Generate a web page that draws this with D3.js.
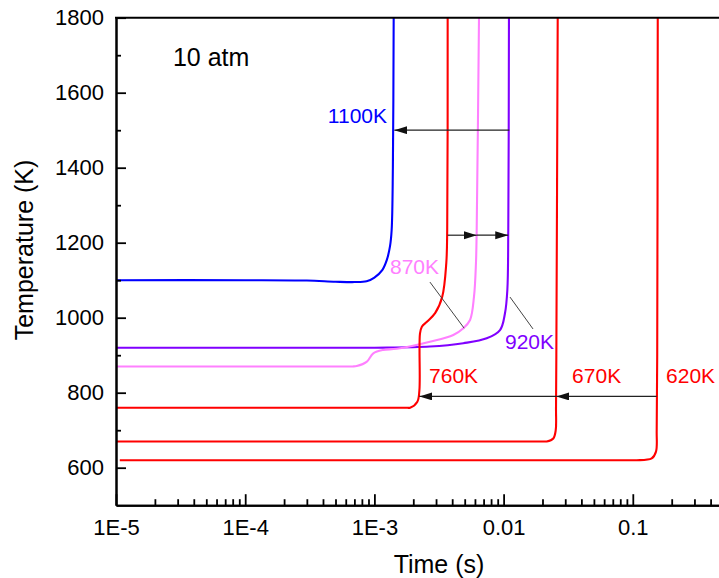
<!DOCTYPE html>
<html>
<head>
<meta charset="utf-8">
<script src="https://cdn.jsdelivr.net/npm/d3@7"></script>
<style>
  html, body { margin: 0; padding: 0; background: #fff; }
  svg { display: block; }
  text { font-family: "Liberation Sans", Arial, sans-serif; }
</style>
</head>
<body>
<svg id="chart" width="719" height="578"></svg>
<script>
// ---------- data ----------
const time1100 = [1e-5, 1e-4, 3e-4, 5e-4, 7e-4, 8.7e-4, 1.0e-3, 1.15e-3, 1.25e-3, 1.32e-3, 1.36e-3, 1.39e-3, 1.41e-3];
const temp1100 = [1100, 1100, 1099, 1096, 1095, 1097, 1107, 1127, 1155, 1190, 1234, 1400, 1800];

const time920 = [1e-5, 1e-4, 1e-3, 2.69e-3, 4.88e-3, 7.4e-3, 9.38e-3, 1.025e-2, 1.069e-2, 1.087e-2, 1.10e-2];
const temp920 = [920, 920, 920, 923, 932, 945, 967, 1012, 1074, 1234, 1800];

const time870 = [1e-5, 1e-4, 4e-4, 6e-4, 6.8e-4, 7.3e-4, 8.7e-4, 9.8e-4, 1.17e-3, 1.49e-3, 2.69e-3, 4.08e-3, 4.88e-3, 5.5e-3, 5.9e-3, 6.11e-3, 6.19e-3, 6.45e-3];
const temp870 = [870, 870, 870, 870, 870, 871, 882, 905, 914, 917, 936, 954, 972, 994, 1056, 1145, 1234, 1800];

const time760 = [1e-5, 1e-4, 1e-3, 1.5e-3, 1.75e-3, 1.89e-3, 2.15e-3, 2.23e-3, 2.254e-3, 2.33e-3, 2.55e-3, 2.95e-3, 3.35e-3, 3.6e-3, 3.66e-3, 3.69e-3];
const temp760 = [760, 760, 760, 760, 760, 760, 776, 807, 958, 976, 989, 1012, 1056, 1145, 1234, 1800];

const time670 = [1e-5, 1e-4, 1e-3, 0.01, 0.018, 0.0205, 0.02157, 0.02425, 0.02532, 0.02545, 0.0256, 0.02623];
const temp670 = [670, 670, 670, 670, 670, 670, 670, 678, 700, 760, 900, 1800];

const time620 = [1.07e-5, 1e-4, 1e-3, 0.01, 0.05, 0.08, 0.095, 0.1072, 0.140, 0.1512, 0.1531, 0.1545, 0.156];
const temp620 = [620, 620, 620, 620, 620, 620, 620, 620, 625, 643, 700, 900, 1800];

const seriesNames  = ["920K", "870K", "670K", "620K", "760K", "1100K"];
const seriesColors = ["#8000ff", "#ff80ff", "#ff0000", "#ff0000", "#ff0000", "#0000ff"];
const seriesTimes  = [time920, time870, time670, time620, time760, time1100];
const seriesTemps  = [temp920, temp870, temp670, temp620, temp760, temp1100];

const xTickValues = [1e-5, 1e-4, 1e-3, 0.01, 0.1];
const xTickLabels = ["1E-5", "1E-4", "1E-3", "0.01", "0.1"];
const yTickValues = [600, 800, 1000, 1200, 1400, 1600, 1800];
const yMinorValues = [700, 900, 1100, 1300, 1500, 1700];

// annotations, in data units
const labelTexts  = ["1100K", "870K", "920K", "760K", "670K", "620K", "10 atm"];
const labelTimes  = [1.252e-3, 1.32e-3, 0.01025, 2.65e-3, 0.0339, 0.181, 2.76e-5];
const labelTemps  = [1519, 1116, 916, 826, 826, 826, 1670];
const labelColors = ["#0000ff", "#ff80ff", "#8000ff", "#ff0000", "#ff0000", "#ff0000", "#000000"];

const arrowFrom = [0.01107, 3.69e-3, 6.2e-3, 0.1531, 0.0256];
const arrowTo   = [1.426e-3, 6.2e-3, 1.087e-2, 0.0256, 2.23e-3];
const arrowTemp = [1500, 1220, 1220, 790, 790];

const leaderT0 = [2.69e-3, 0.01121], leaderK0 = [1095, 1055];
const leaderT1 = [4.95e-3, 0.01689], leaderK1 = [972, 970];

// ---------- drawing ----------
const svg = d3.select("#chart");
const x = d3.scaleLog().domain([1e-5, 1]).range([116, 762]);
const y = d3.scaleLinear().domain([500, 1800]).range([505.2, 17.7]);

const defs = svg.append("defs");
defs.append("clipPath").attr("id", "plot")
  .append("rect").attr("x", x(1e-5)).attr("y", y(1800) - 1)
  .attr("width", x(1) - x(1e-5)).attr("height", y(500) - y(1800) + 1);
defs.append("marker").attr("id", "arrow")
  .attr("markerUnits", "userSpaceOnUse")
  .attr("markerWidth", 14).attr("markerHeight", 9)
  .attr("refX", 13).attr("refY", 4).attr("orient", "auto")
  .append("path").attr("d", "M0,0 L13,4 L0,8 Z").attr("fill", "#111");

const line = d3.line()
  .x(d => x(d[0])).y(d => y(d[1]))
  .curve(d3.curveCatmullRom.alpha(0.5));

const gLines = svg.append("g").attr("clip-path", "url(#plot)");
seriesNames.forEach((name, i) => {
  const pts = seriesTimes[i].map((t, j) => [t, seriesTemps[i][j]]);
  gLines.append("path").datum(pts)
    .attr("d", line)
    .attr("fill", "none")
    .attr("stroke", seriesColors[i])
    .attr("stroke-width", 2.1)
    .attr("stroke-linejoin", "round");
});

// arrows
arrowFrom.forEach((t0, i) => {
  svg.append("line")
    .attr("x1", x(t0)).attr("x2", x(arrowTo[i]))
    .attr("y1", y(arrowTemp[i])).attr("y2", y(arrowTemp[i]))
    .attr("stroke", "#222").attr("stroke-width", 1.2)
    .attr("marker-end", "url(#arrow)");
});

// leader lines
leaderT0.forEach((t0, i) => {
  svg.append("line")
    .attr("x1", x(t0)).attr("y1", y(leaderK0[i]))
    .attr("x2", x(leaderT1[i])).attr("y2", y(leaderK1[i]))
    .attr("stroke", "#444").attr("stroke-width", 1);
});

// labels
labelTexts.forEach((txt, i) => {
  svg.append("text")
    .attr("x", x(labelTimes[i])).attr("y", y(labelTemps[i]))
    .attr("text-anchor", i === 0 ? "end" : "start")
    .attr("font-size", i === 6 ? 25 : 21)
    .attr("fill", labelColors[i])
    .text(txt);
});

// axes
const xAxisMajor = d3.axisBottom(x).tickValues(xTickValues)
  .tickFormat((d, i) => xTickLabels[i]).tickSize(-11).tickSizeOuter(0).tickPadding(14);
const minorX = [];
for (let e = -5; e < 0; e++) for (let m = 2; m <= 9; m++) minorX.push(m * Math.pow(10, e));
const xAxisMinor = d3.axisBottom(x).tickValues(minorX).tickFormat("").tickSize(-6).tickSizeOuter(0);

const gxMinor = svg.append("g").attr("transform", `translate(0,${y(500)})`).call(xAxisMinor);
const gx = svg.append("g").attr("transform", `translate(0,${y(500)})`).call(xAxisMajor);

const yAxisMajor = d3.axisLeft(y).tickValues(yTickValues).tickFormat(d3.format("d"))
  .tickSize(-10).tickSizeOuter(0).tickPadding(12);
const yAxisMinor = d3.axisLeft(y).tickValues(yMinorValues).tickFormat("").tickSize(-5).tickSizeOuter(0);
const gyMinor = svg.append("g").attr("transform", `translate(${x(1e-5)},0)`).call(yAxisMinor);
const gy = svg.append("g").attr("transform", `translate(${x(1e-5)},0)`).call(yAxisMajor);

[gx, gxMinor, gy, gyMinor].forEach(g => {
  g.selectAll("path.domain").attr("stroke", "#000").attr("stroke-width", 2);
  g.selectAll(".tick line").attr("stroke", "#000").attr("stroke-width", 1.8);
  g.selectAll(".tick text").attr("fill", "#000").attr("font-size", 22)
    .attr("font-family", "'Liberation Sans', Arial, sans-serif");
});

// top border
svg.append("line")
  .attr("x1", x(1e-5) - 1).attr("x2", x(1))
  .attr("y1", y(1800)).attr("y2", y(1800))
  .attr("stroke", "#000").attr("stroke-width", 2);

// axis titles
svg.append("text")
  .attr("x", (x(1e-5) + x(1)) / 2).attr("y", 573)
  .attr("text-anchor", "middle").attr("font-size", 25)
  .text("Time (s)");
svg.append("text")
  .attr("transform", `translate(33,250) rotate(-90)`)
  .attr("text-anchor", "middle").attr("font-size", 25)
  .text("Temperature (K)");
</script>
</body>
</html>
